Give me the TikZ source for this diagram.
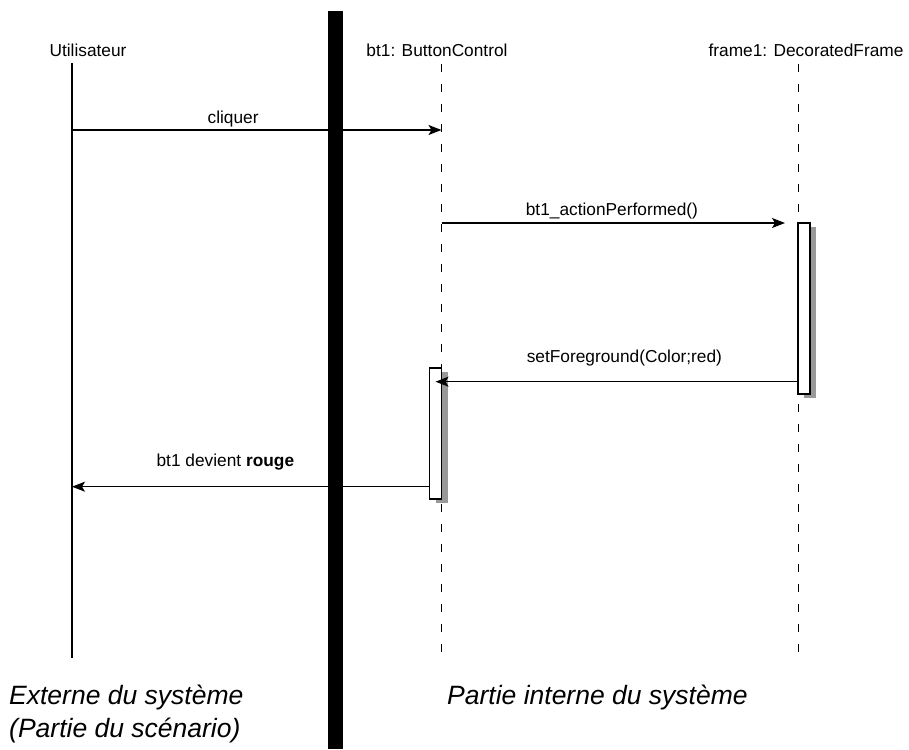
\documentclass[tikz,border=0pt]{standalone}
\usepackage{fontspec}
\setmainfont{Liberation Sans}
\usepackage{tikz}
\usetikzlibrary{arrows.meta,shadows}

\tikzset{
  headlbl/.style={anchor=base, inner sep=0pt, font=\fontsize{17.3}{20}\selectfont},
  msglbl/.style={anchor=base, inner sep=0pt, font=\fontsize{17.3}{20}\selectfont},
  zonelbl/.style={anchor=base west, inner sep=0pt, font=\fontsize{26.5}{28}\selectfont\itshape},
  lifeline/.style={line width=1pt, dash pattern=on 8pt off 12pt},
  msgarrow/.style={line width=1.2pt, -{Stealth[length=13pt,width=10pt,inset=3pt]}},
  activation/.style={draw, fill=white, line width=1.2pt, minimum width=12pt,
    inner sep=0pt, outer sep=0pt, anchor=north west,
    drop shadow={shadow xshift=6pt, shadow yshift=-4pt, fill=black!40, opacity=1}},
}

\begin{document}
\begin{tikzpicture}[x=1pt, y=-1pt]
    \useasboundingbox (0,0) rectangle (909,749);

    % objets
    \node[headlbl] (user) at (88,57) {Utilisateur};
    \node[headlbl] (bt) at (437,57) {bt1: ButtonControl};
    \node[headlbl] (frame) at (806,57) {frame1: DecoratedFrame};

    \coordinate (userTop) at (72,63);
    \coordinate (userBot) at (72,658);
    \coordinate (btTop) at (441.5,64);
    \coordinate (btBot) at (441.5,658);
    \coordinate (frTop) at (798,64);
    \coordinate (frBot) at (798,658);

    \draw[line width=1.3pt] (userTop) -- (userBot);
    \draw[lifeline] (btTop) -- (btBot);
    \draw[lifeline] (frTop) -- (frBot);

    % activations
    \node[activation, minimum height=171pt] (frameAct) at (798,223) {};
    \node[activation, minimum height=131pt] (btAct) at (429.5,368) {};

    % messages
    \coordinate (m1) at (0,130);
    \coordinate (m3) at (0,381.7);
    \coordinate (m4) at (0,486.7);

    \draw[msgarrow] (userTop |- m1) -- (btTop |- m1)
        node[msglbl, pos=0.436, yshift=6pt] (lblClick) {cliquer};
    \draw[msgarrow, shorten >=13pt] (btTop |- frameAct.north west) -- (frameAct.north west)
        node[msglbl, pos=0.478, yshift=8pt] (lblAction) {bt1\_actionPerformed()};
    \draw[msgarrow, shorten >=-6pt] (frameAct.west |- m3) -- (btAct.east |- m3)
        node[msglbl, pos=0.487, yshift=19.7pt] (lblSet) {setForeground(Color;red)};
    \draw[msgarrow] (btAct.west |- m4) -- (userTop |- m4)
        node[msglbl, pos=0.571, yshift=20.7pt] (lblRed) {bt1 devient \textbf{rouge}};

    % frontiere du systeme
    \fill (328,11) rectangle (343,749);

    \node[zonelbl] (extA) at (9,704) {Externe du système};
    \node[zonelbl] (extB) at (9,737) {(Partie du scénario)};
    \node[zonelbl] (intA) at (447,704) {Partie interne du système};
\end{tikzpicture}
\end{document}
